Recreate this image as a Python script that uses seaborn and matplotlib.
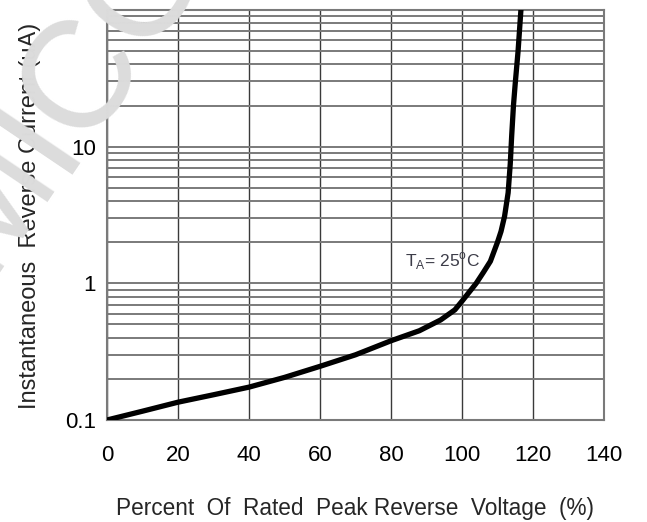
import numpy as np
import pandas as pd
import matplotlib
matplotlib.use("Agg")
import matplotlib.pyplot as plt
import seaborn as sns
from matplotlib.ticker import FixedLocator, NullFormatter

# Curve (percent of rated voltage, reverse current in uA)
voltage_pct = [0, 10, 20, 30, 40, 50, 60, 70, 80, 88, 94, 98, 100, 104, 106, 108,
               110, 111, 112, 113, 113.6, 114, 114.5, 115, 115.8, 116.6]
current_ua = [0.100, 0.116, 0.135, 0.153, 0.174, 0.205, 0.247, 0.30, 0.38, 0.45,
              0.54, 0.64, 0.74, 1.0, 1.2, 1.45, 2.0, 2.4, 3.1, 4.6, 7.5, 12, 20,
              29, 50, 100]

x_ticks = [0, 20, 40, 60, 80, 100, 120, 140]
y_ticks = [0.1, 1, 10]
y_tick_labels = ["0.1", "1", "10"]

df = pd.DataFrame({"voltage": voltage_pct, "current": current_ua})

sns.set_style("white")
plt.rcParams["font.family"] = ["Liberation Sans", "DejaVu Sans"]

fig = plt.figure(figsize=(6.47, 5.22), dpi=100)

# faint watermark behind the chart
wm_x, wm_y = 0.092, 0.665
fig.text(wm_x, wm_y, "SEM", rotation=56, rotation_mode="anchor", ha="right",
         va="baseline", fontsize=110, color="#dcdcdc", zorder=0)
fig.text(wm_x, wm_y, "ICON", rotation=56, rotation_mode="anchor", ha="left",
         va="baseline", fontsize=110, color="#dcdcdc", zorder=0)

ax = fig.add_axes([0.1654, 0.1954, 0.7681, 0.7854])
ax.set_facecolor("none")

sns.lineplot(data=df, x="voltage", y="current", ax=ax, color="black",
             linewidth=3.8, sort=False, zorder=5)

ax.set_yscale("log")
ax.set_xlim(0, 140)
ax.set_ylim(0.1, 100)

ax.xaxis.set_major_locator(FixedLocator(x_ticks))
ax.yaxis.set_major_locator(FixedLocator(y_ticks))
ax.set_yticklabels(y_tick_labels)
ax.yaxis.set_minor_locator(FixedLocator(
    [m * d for d in [0.1, 1, 10] for m in range(2, 10)] + [100]))
ax.yaxis.set_minor_formatter(NullFormatter())

ax.grid(True, axis="x", which="major", color="#3a3a3a", linewidth=1.0)
ax.grid(True, axis="y", which="both", color="#7a7a7a", linewidth=1.4)
ax.set_axisbelow(True)

ax.tick_params(axis="both", which="both", length=0, labelsize=16, colors="black")
ax.tick_params(axis="x", pad=18)
ax.tick_params(axis="y", pad=8)

for spine in ax.spines.values():
    spine.set_color("#7a7a7a")
    spine.set_linewidth(1.5)

ax.set_xlabel("Percent  Of  Rated  Peak Reverse  Voltage  (%)", fontsize=16.3,
              labelpad=22)
ax.set_ylabel("Instantaneous  Reverse Current (uA)", fontsize=17)
ax.yaxis.set_label_coords(-0.133, 0.497)

ax.text(84, 1.34, r"T$_\mathregular{A}$= 25$^\mathregular{o}$C", fontsize=12.5,
        color="#3c3c48", ha="left", va="baseline", zorder=6)

fig.savefig("out.png", dpi=100)
